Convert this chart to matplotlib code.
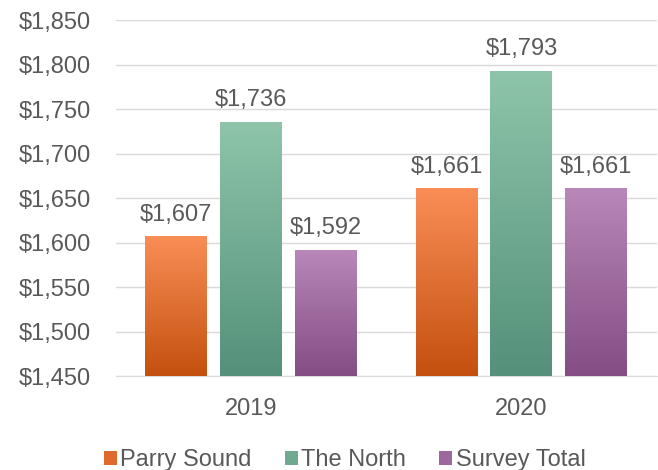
import numpy as np
import matplotlib.pyplot as plt
from matplotlib.colors import LinearSegmentedColormap
from matplotlib.patches import Patch

plt.rcParams['font.family'] = ['Liberation Sans', 'DejaVu Sans']

years = ['2019', '2020']
series = ['Parry Sound', 'The North', 'Survey Total']
parry_sound = [1607, 1661]
the_north = [1736, 1793]
survey_total = [1592, 1661]
values = [parry_sound, the_north, survey_total]

# top / bottom gradient colours per series
grad_colors = [('#F98E56', '#C4500F'), ('#8EC5AA', '#54907A'), ('#B987B9', '#844E84')]
mid_colors = ['#E06A2E', '#6FAA90', '#9D689D']

text_col = '#595959'
fs = 17
ymin, ymax = 1450, 1850

fig = plt.figure(figsize=(6.58, 4.7), dpi=100)
ax = fig.add_axes([0.176, 0.2, 0.822, 0.757])

x = np.arange(len(years))
width = 0.229
offset = 0.277

for i, (vals, (top, bot)) in enumerate(zip(values, grad_colors)):
    cmap = LinearSegmentedColormap.from_list('g%d' % i, [bot, top])
    bars = ax.bar(x + (i - 1) * offset, vals, width, bottom=0, color='none', zorder=3)
    for b, v in zip(bars, vals):
        x0 = b.get_x()
        ext = [x0, x0 + b.get_width(), ymin, v]
        grad = np.linspace(0, 1, 256).reshape(-1, 1)
        im = ax.imshow(grad, extent=ext, origin='lower', cmap=cmap, aspect='auto', zorder=3)
        im.set_clip_path(b)
        ax.text(x0 + b.get_width() / 2, v + 12, '${:,}'.format(v), ha='center', va='bottom',
                fontsize=fs, color=text_col)

ax.set_xlim(-0.5, 1.5)
ax.set_ylim(ymin, ymax)
ax.set_yticks(np.arange(ymin, ymax + 1, 50))
ax.set_yticklabels(['${:,}'.format(t) for t in np.arange(ymin, ymax + 1, 50)])
ax.set_xticks(x)
ax.set_xticklabels(years)
ax.tick_params(axis='both', length=0, labelsize=fs, colors=text_col)
ax.tick_params(axis='y', pad=18)
ax.tick_params(axis='x', pad=16)
ax.grid(axis='y', color='#D9D9D9', linewidth=1, zorder=0)
for s in ['top', 'right', 'left']:
    ax.spines[s].set_visible(False)
ax.spines['bottom'].set_color('#D9D9D9')

handles = [Patch(facecolor=c) for c in mid_colors]
fig.legend(handles, series, loc='lower center', bbox_to_anchor=(0.524, -0.048), ncol=3, frameon=False,
           fontsize=fs, labelcolor=text_col, handlelength=0.55, handleheight=0.55,
           handletextpad=0.15, columnspacing=1.4)

plt.savefig('out.png', dpi=100)
